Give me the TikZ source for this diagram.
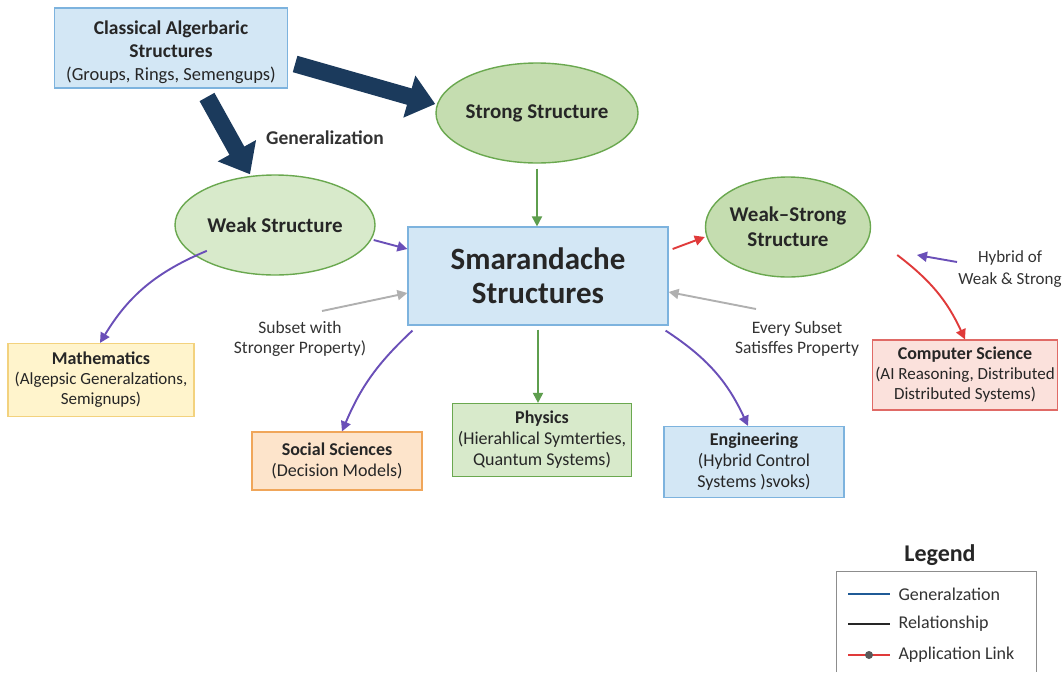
\documentclass[tikz,border=0pt]{standalone}
\usepackage{fontspec}
\setmainfont{Carlito}
\usetikzlibrary{arrows.meta,shapes.geometric}
\definecolor{navy}{HTML}{1B3A5C}
\definecolor{bluefill}{HTML}{D3E7F5}
\definecolor{blueline}{HTML}{7DB3DE}
\definecolor{greenfill}{HTML}{D8EACB}
\definecolor{darkfill}{HTML}{C5DDB0}
\definecolor{greenline}{HTML}{6AA84F}
\definecolor{yelfill}{HTML}{FFF4CC}
\definecolor{yelline}{HTML}{F3D27E}
\definecolor{orfill}{HTML}{FDE4CB}
\definecolor{orline}{HTML}{F0A65A}
\definecolor{pinkfill}{HTML}{FBE1DC}
\definecolor{pinkline}{HTML}{E06A66}
\definecolor{purp}{HTML}{6A4FB8}
\definecolor{redarr}{HTML}{E03A3A}
\definecolor{grn}{HTML}{5E9E4E}
\definecolor{gry}{HTML}{B0B0B0}
\definecolor{legblue}{HTML}{1F5A96}
\tikzset{
  box/.style={draw, line width=1.2pt, align=center, inner sep=2pt, font=\fontsize{18}{21}\selectfont, text=black!85},
  ell/.style={ellipse, draw=greenline, fill=greenfill, line width=1.4pt, inner sep=0pt, align=center, font=\bfseries\fontsize{21}{25}\selectfont, text=black!85},
  bigarrow/.style={navy, line width=17pt, -{Triangle[width=42pt,length=27pt]}},
  thin/.style={line width=1.9pt, -{Triangle[width=10pt,length=10pt]}},
  lbl/.style={align=center, font=\fontsize{17.5}{20}\selectfont, text=black!80},
}
\begin{document}
\begin{tikzpicture}[x=1pt,y=-1pt]
\useasboundingbox[fill=white] (0,0) rectangle (1062,672);

% main nodes
\node[box, draw=blueline, fill=bluefill, minimum width=233pt, minimum height=80pt, font=\fontsize{18.5}{23}\selectfont] (classical) at (171,48)
  {\rule{0pt}{22pt}\textbf{\fontsize{19.5}{23}\selectfont Classical Algerbaric}\\\textbf{\fontsize{19.5}{23}\selectfont Structures}\\(Groups, Rings, Semengups)};
\node[ell, fill=darkfill, minimum width=202pt, minimum height=100pt] (strong) at (537,113) {Strong Structure};
\node[ell, minimum width=200pt, minimum height=100pt] (weak) at (275,225) {Weak Structure};
\node[ell, fill=darkfill, minimum width=165pt, minimum height=100pt] (ws) at (788,227) {Weak--Strong\\Structure};
\node[box, draw=blueline, fill=bluefill, minimum width=260pt, minimum height=98pt, font=\bfseries\fontsize{31}{34}\selectfont] (sma) at (538,276) {Smarandache\\Structures};

% application boxes
\node[box, draw=yelline, fill=yelfill, minimum width=186pt, minimum height=73pt, font=\fontsize{17}{20}\selectfont] (math) at (101,380)
  {\textbf{\fontsize{18}{20}\selectfont Mathematics}\\(Algepsic Generalzations,\\Semignups)};
\node[box, draw=orline, fill=orfill, minimum width=170pt, minimum height=58pt] (soc) at (337,461)
  {\textbf{Social Sciences}\\(Decision Models)};
\node[box, draw=greenline, fill=greenfill, minimum width=179pt, minimum height=73pt] (phys) at (542,440)
  {\textbf{Physics}\\(Hierahlical Symterties,\\Quantum Systems)};
\node[box, draw=blueline, fill=bluefill, minimum width=180pt, minimum height=71pt] (eng) at (754,462)
  {\textbf{Engineering}\\(Hybrid Control\\Systems )svoks)};
\node[box, draw=pinkline, fill=pinkfill, minimum width=185pt, minimum height=70pt, font=\fontsize{17}{20}\selectfont] (cs) at (965,375)
  {\textbf{\fontsize{18}{20}\selectfont Computer Science}\\(AI Reasoning, Distributed\\Distributed Systems)};

% generalization arrows
\draw[bigarrow] (classical.east|-0,64) ++(7,0) -- (strong.west|-0,104);
\draw[bigarrow] (207,97) -- (weak.north-|250,0);
\node[lbl, font=\bfseries\fontsize{19.5}{23}\selectfont] (gen) at (325,138) {Generalization};

% relationships into the central box
\draw[thin, grn] (strong.south) ++(0,5) -- (sma.north-|strong.south);
\draw[thin, purp] (weak.east|-0,240) ++(-2,0) -- (sma.west|-0,249);
\draw[thin, redarr] (sma.east|-0,249) ++(4,0) -- (ws.west|-0,237);

\node[lbl] (sub1) at (300,339) {Subset with\\Stronger Property)};
\node[lbl] (sub2) at (797,339) {Every Subset\\Satisffes Property};
\coordinate (g1) at (322,311);
\coordinate (g2) at (756,309);
\draw[thin, gry] (g1) -- (sma.west|-0,293);
\draw[thin, gry] (g2) -- (sma.east|-0,292);

% application links
\draw[thin, purp] (weak.south west) ++(3,-10) to[bend right=18] (math.north-|100,0);
\draw[thin, purp] (sma.south west) ++(5,5) to[bend right=12] (soc.north-|342,0);
\draw[thin, grn] (sma.south) ++(0,4) -- (phys.north-|sma.south);
\draw[thin, purp] (sma.south east) ++(-3,5) to[bend left=16] (eng.north-|748,0);
\draw[thin, redarr] (ws.east) ++(26,28) to[bend left=14] (cs.north-|965,0);

\node[lbl, font=\fontsize{17}{22}\selectfont] (hyb) at (1010,269) {Hybrid of\\Weak \& Strong};
\coordinate (h1) at (957,262);
\draw[thin, purp] (h1) -- (917,255);

% legend
\node[font=\bfseries\fontsize{24}{28}\selectfont, text=black!85] (legt) at (940,555) {Legend};
\draw[gry!80!black, line width=1pt] (836,672) |- (1036,571) -- (1036,672);
\coordinate (l1a) at (848,594); \coordinate (l1b) at (890,594);
\coordinate (l2a) at (848,624); \coordinate (l2b) at (890,624);
\coordinate (l3a) at (848,655); \coordinate (l3b) at (890,655);
\draw[legblue, line width=2.2pt] (l1a) -- (l1b);
\draw[black!85, line width=2.2pt] (l2a) -- (l2b);
\draw[redarr, line width=2.2pt] (l3a) -- (l3b);
\fill[gray!70!black] (869,655) circle (4pt);
\node[lbl, font=\fontsize{18}{21}\selectfont, anchor=west] (lg1) at (895,594) {Generalzation};
\node[lbl, font=\fontsize{18}{21}\selectfont, anchor=west] (lg2) at (895,624) {Relationship};
\node[lbl, font=\fontsize{18}{21}\selectfont, anchor=west] (lg3) at (895,655) {Application Link};
\end{tikzpicture}
\end{document}
